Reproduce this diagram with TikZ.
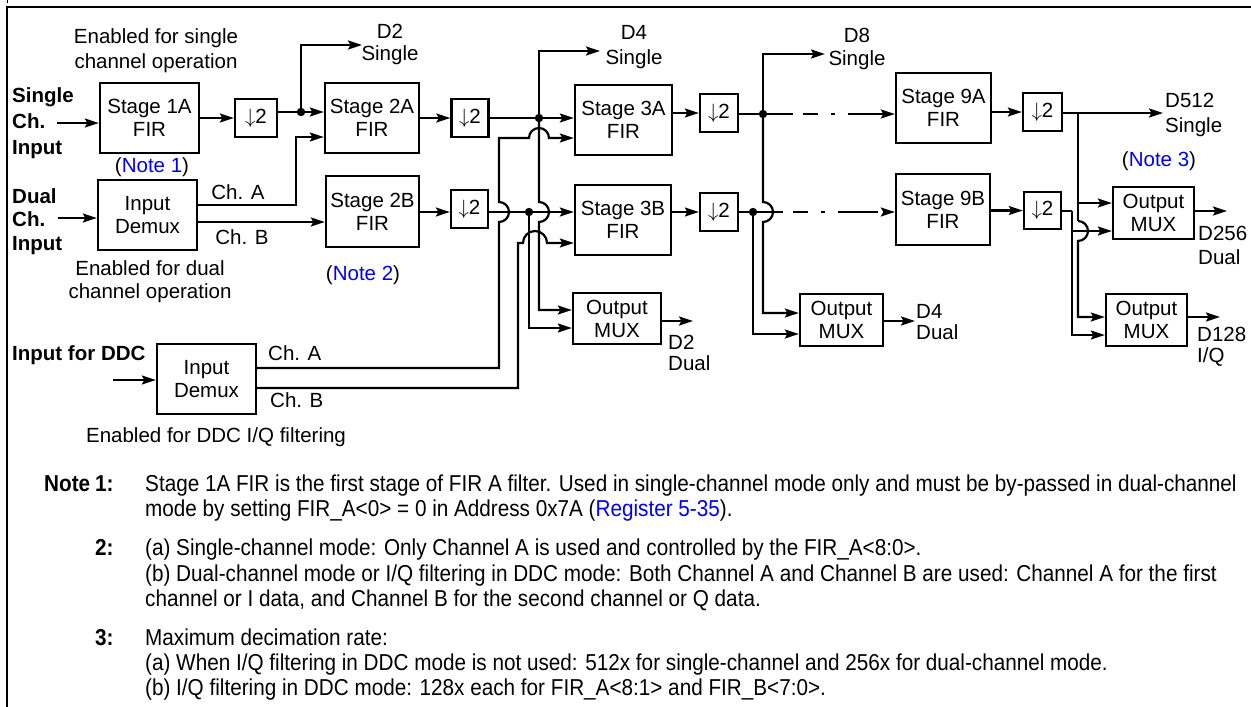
\documentclass[tikz,border=0pt]{standalone}
\usepackage{fontspec}
\setmainfont{Liberation Sans}
\newfontfamily\notefont[FakeStretch=0.9]{Liberation Sans}
\usetikzlibrary{arrows.meta}
\definecolor{lnk}{RGB}{0,0,235}
\begin{document}
\begin{tikzpicture}[x=1pt,y=-1pt,
  wire/.style={line width=2.2pt},
  thinwire/.style={line width=1.1pt},
  arr/.style={wire,-{Stealth[length=14pt,width=9pt,inset=2.5pt]}},
  dashpat/.style={dash pattern=on 30pt off 10pt on 15pt off 13pt on 4pt off 13pt on 40pt},
  box/.style={draw,line width=2.3pt,align=center,inner sep=0pt,font=\fontsize{20.5}{23}\selectfont},
  dnbox/.style={draw,line width=2.3pt,inner sep=0pt,minimum width=38pt,minimum height=38pt,font=\fontsize{20.5}{23}\selectfont},
  lab/.style={align=center,inner sep=0pt,font=\fontsize{20.5}{24}\selectfont},
  labl/.style={align=left,inner sep=0pt,anchor=west,font=\fontsize{20.5}{22}\selectfont},
  bl/.style={align=left,inner sep=0pt,anchor=west,font=\bfseries\fontsize{20.5}{26}\selectfont},
  note/.style={anchor=base west,inner sep=0pt,font=\notefont\fontsize{23}{25}\selectfont},
]
\useasboundingbox (0,0) rectangle (1251,707);
% frame
\draw[line width=2.4pt] (7,707) -- (7,7) -- (1251,7);
\draw[line width=1pt] (7,0) -- (7,3);

% ---------- boxes ----------
\node[box,minimum width=99pt,minimum height=70pt] (s1a) at (149.5,118) {Stage 1A\\FIR};
\node[dnbox,minimum width=42pt] (dn1) at (256,118) {$\downarrow$2};
\node[box,minimum width=94pt,minimum height=70pt] (s2a) at (372,118) {Stage 2A\\FIR};
\node[dnbox,minimum width=37pt] (dn2a) at (470,118) {$\downarrow$2};
\node[box,minimum width=97pt,minimum height=70pt] (s3a) at (623.5,120) {Stage 3A\\FIR};
\node[dnbox] (dn3a) at (719,113) {$\downarrow$2};
\node[box,minimum width=95pt,minimum height=70pt] (s9a) at (943.5,108) {Stage 9A\\FIR};
\node[dnbox,minimum width=39pt] (dn9a) at (1042.5,112) {$\downarrow$2};

\node[box,minimum width=99pt,minimum height=70pt] (dmx1) at (147.5,215) {Input\\Demux};
\node[box,minimum width=93pt,minimum height=71pt] (s2b) at (372.5,211.5) {Stage 2B\\FIR};
\node[dnbox,minimum width=37pt] (dn2b) at (469.5,209) {$\downarrow$2};
\node[box,minimum width=96pt,minimum height=70pt] (s3b) at (623,220) {Stage 3B\\FIR};
\node[dnbox] (dn3b) at (719,212) {$\downarrow$2};
\node[box,minimum width=94pt,minimum height=71pt] (s9b) at (943,209.5) {Stage 9B\\FIR};
\node[dnbox,minimum width=37pt,minimum height=37pt] (dn9b) at (1042.5,210.5) {$\downarrow$2};

\node[box,minimum width=88pt,minimum height=51pt] (mux2) at (617,318.5) {Output\\MUX};
\node[box,minimum width=83pt,minimum height=52pt] (mux4) at (841.5,320) {Output\\MUX};
\node[box,minimum width=81pt,minimum height=52pt] (mux256) at (1153.5,213) {Output\\MUX};
\node[box,minimum width=81pt,minimum height=52pt] (mux128) at (1146.5,320) {Output\\MUX};
\node[box,minimum width=99pt,minimum height=70pt] (dmx2) at (206.5,379) {Input\\Demux};

% ---------- coordinates ----------
\coordinate (in1) at (57,123);
\coordinate (j1) at (301,112);
\coordinate (o1) at (362,45);
\coordinate (in2) at (58,218);
\coordinate (ca1) at (296,205);
\coordinate (ca1t) at (296,137);
\coordinate (cb1) at (300,222);
\coordinate (lv2b) at (0,212);
\coordinate (j2) at (539,118);
\coordinate (o2) at (600,51);
\coordinate (j3) at (529,212);
\coordinate (X1) at (499,212);
\coordinate (X2) at (539,138);
\coordinate (X4) at (539,212);
\coordinate (ddcA) at (499,368);
\coordinate (ca2t) at (499,138);
\coordinate (ddcB) at (518,388);
\coordinate (cb2t) at (518,243);
\coordinate (X3) at (535,243);
\coordinate (in3) at (113,380);
\coordinate (m2a) at (0,310);
\coordinate (m2b) at (0,328);
\coordinate (o4) at (693,321);
\coordinate (j4) at (763,114);
\coordinate (o3) at (825,54);
\coordinate (X5) at (763,212);
\coordinate (j5) at (753,212);
\coordinate (m4a) at (0,313);
\coordinate (m4b) at (0,334);
\coordinate (o5) at (915,321);
\coordinate (o6) at (1163,113);
\coordinate (t0) at (1078,113);
\coordinate (X6) at (1078,231);
\coordinate (m256a) at (0,203);
\coordinate (m128a) at (0,317);
\coordinate (m128b) at (0,335);
\coordinate (b9) at (1072,211);
\coordinate (o7) at (1227,211);
\coordinate (o8) at (1220,317);

% ---------- row A ----------
\draw[arr] (in1) -- (s1a.west |- in1);
\draw[arr] (s1a.east) -- (dn1.west);
\draw[wire] (dn1.east |- j1) -- (j1);
\draw[arr] (j1) -- (s2a.west |- j1);
\draw[arr] (j1) |- (o1);
\fill (j1) circle (4.2);

% dual demux
\draw[arr] (in2) -- (dmx1.west |- in2);
\draw[arr] (dmx1.east |- ca1) -| (ca1t) -- (s2a.west |- ca1t);
\draw[arr] (dmx1.east |- cb1) -- (s2b.west |- cb1);

\draw[arr] (s2a.east) -- (dn2a.west);
\draw[arr] (s2b.east |- lv2b) -- (dn2b.west |- lv2b);

% stage 3 inputs
\draw[wire] (dn2a.east |- j2) -- (j2);
\draw[arr] (j2) -- (s3a.west |- j2);
\draw[arr] (j2) |- (o2);
\draw[arr] (j2) -- ([yshift=10pt]X4) arc[start angle=-90,end angle=90,radius=10] |- (mux2.west |- m2a);
\fill (j2) circle (4.2);

\draw[arr] (dn2b.east |- j3) -- (s3b.west |- j3);
\draw[arr] (j3) |- (mux2.west |- m2b);
\fill (j3) circle (4.2);

% DDC demux
\draw[arr] (in3) -- (dmx2.west |- in3);
\draw[arr] (dmx2.east |- ddcA) -- (ddcA) -- ([yshift=-10pt]X1) arc[start angle=90,end angle=-90,radius=10] -- (ca2t) -- ([xshift=-10pt]X2) arc[start angle=180,end angle=360,radius=10] -- (s3a.west |- X2);
\draw[arr] (dmx2.east |- ddcB) -- (ddcB) -- (cb2t) -- ([xshift=-12pt]X3) arc[start angle=180,end angle=360,radius=12] -- (s3b.west |- X3);

\draw[arr] (mux2.east |- o4) -- (o4);

% stage 3 outputs
\draw[arr] (s3a.east |- dn3a) -- (dn3a.west);
\draw[wire] (dn3a.east |- j4) -- (j4);
\draw[arr] (j4) |- (o3);
\draw[arr,dashpat] (j4) -- (s9a.west |- j4);
\draw[arr] (j4) -- ([yshift=10pt]X5) arc[start angle=-90,end angle=90,radius=10] |- (mux4.west |- m4a);
\fill (j4) circle (4.2);

\draw[arr] (s3b.east |- dn3b) -- (dn3b.west);
\draw[wire] (dn3b.east |- j5) -- (j5);
\draw[arr,dashpat] (j5) -- (s9b.west |- j5);
\draw[arr] (j5) |- (mux4.west |- m4b);
\fill (j5) circle (4.2);

\draw[arr] (mux4.east |- o5) -- (o5);

% stage 9
\draw[arr] (s9a.east |- dn9a) -- (dn9a.west);
\draw[arr] (dn9a.east |- o6) -- (o6);
\draw[arr] (s9b.east |- dn9b) -- (dn9b.west);

\draw[thinwire] (t0) -- ([yshift=10pt]X6);
\draw[arr] (t0 |- m256a) -- (mux256.west |- m256a);
\draw[arr] ([yshift=10pt]X6) arc[start angle=-90,end angle=90,radius=10] |- (mux128.west |- m128a);
\draw[wire] (dn9b.east |- b9) -- (b9);
\draw[arr] (b9) |- (mux128.west |- m128b);
\draw[arr] (b9 |- X6) -- (mux256.west |- X6);
\draw[arr] (mux256.east |- o7) -- (o7);
\draw[arr] (mux128.east |- o8) -- (o8);

% ---------- labels ----------
\node[lab,font=\fontsize{20.5}{25}\selectfont] (t1) at (156,50.5) {Enabled for single\\channel operation};
\node[bl] (l1) at (12,123) {Single\\Ch.\\Input};
\node[lab] (n1) at (152,167) {(\textcolor{lnk}{Note 1})};
\node[lab,font=\fontsize{20.5}{22}\selectfont] (d2s) at (390,44) {D2\\Single};
\node[lab,font=\fontsize{20.5}{25}\selectfont] (d4s) at (634,47.5) {D4\\Single};
\node[lab,font=\fontsize{20.5}{23}\selectfont] (d8s) at (857,48.5) {D8\\Single};
\node[labl,font=\fontsize{20.5}{25}\selectfont] (d512) at (1165,114.5) {D512\\Single};
\node[lab] (n3) at (1159,161) {(\textcolor{lnk}{Note 3})};
\node[lab] (la1) at (238,192) {Ch. A};
\node[lab] (lb1) at (242,237) {Ch. B};
\node[bl,font=\bfseries\fontsize{20.5}{23.5}\selectfont] (l2) at (12,221.5) {Dual\\Ch.\\Input};
\node[lab,font=\fontsize{20.5}{23}\selectfont] (t2) at (150,281.5) {Enabled for dual\\channel operation};
\node[lab] (n2) at (363,275) {(\textcolor{lnk}{Note 2})};
\node[bl] (l3) at (12,355) {Input for DDC};
\node[labl] (la2) at (268,353) {Ch. A};
\node[labl] (lb2) at (270,400) {Ch. B};
\node[lab] (t3) at (216,437) {Enabled for DDC I/Q filtering};
\node[labl,font=\fontsize{20.5}{21}\selectfont] (d2d) at (668,352.5) {D2\\Dual};
\node[labl,font=\fontsize{20.5}{21}\selectfont] (d4d) at (916,322.5) {D4\\Dual};
\node[labl,font=\fontsize{20.5}{24}\selectfont] (d256) at (1198,245) {D256\\Dual};
\node[labl,font=\fontsize{20.5}{21}\selectfont] (d128) at (1197,346.5) {D128\\I/Q};

% ---------- notes ----------
\node[note] (nh) at (44,491) {\bfseries Note};
\node[note] (nk1) at (95,491) {\bfseries 1:};
\node[note] (n1a) at (145,491) {Stage 1A FIR is the first stage of FIR A filter. Used in single-channel mode only and must be by-passed in dual-channel};
\node[note] (n1b) at (145,516) {mode by setting FIR\_A<0> = 0 in Address 0x7A (\textcolor{lnk}{Register 5-35}).};
\node[note] (nk2) at (95,555) {\bfseries 2:};
\node[note] (n2a) at (145,555) {(a) Single-channel mode: Only Channel A is used and controlled by the FIR\_A<8:0>.};
\node[note] (n2b) at (145,581) {(b) Dual-channel mode or I/Q filtering in DDC mode: Both Channel A and Channel B are used: Channel A for the first};
\node[note] (n2c) at (145,606) {channel or I data, and Channel B for the second channel or Q data.};
\node[note] (nk3) at (95,645) {\bfseries 3:};
\node[note] (n3a) at (145,645) {Maximum decimation rate:};
\node[note] (n3b) at (145,670) {(a) When I/Q filtering in DDC mode is not used: 512x for single-channel and 256x for dual-channel mode.};
\node[note] (n3c) at (145,695) {(b) I/Q filtering in DDC mode: 128x each for FIR\_A<8:1> and FIR\_B<7:0>.};
\end{tikzpicture}
\end{document}
